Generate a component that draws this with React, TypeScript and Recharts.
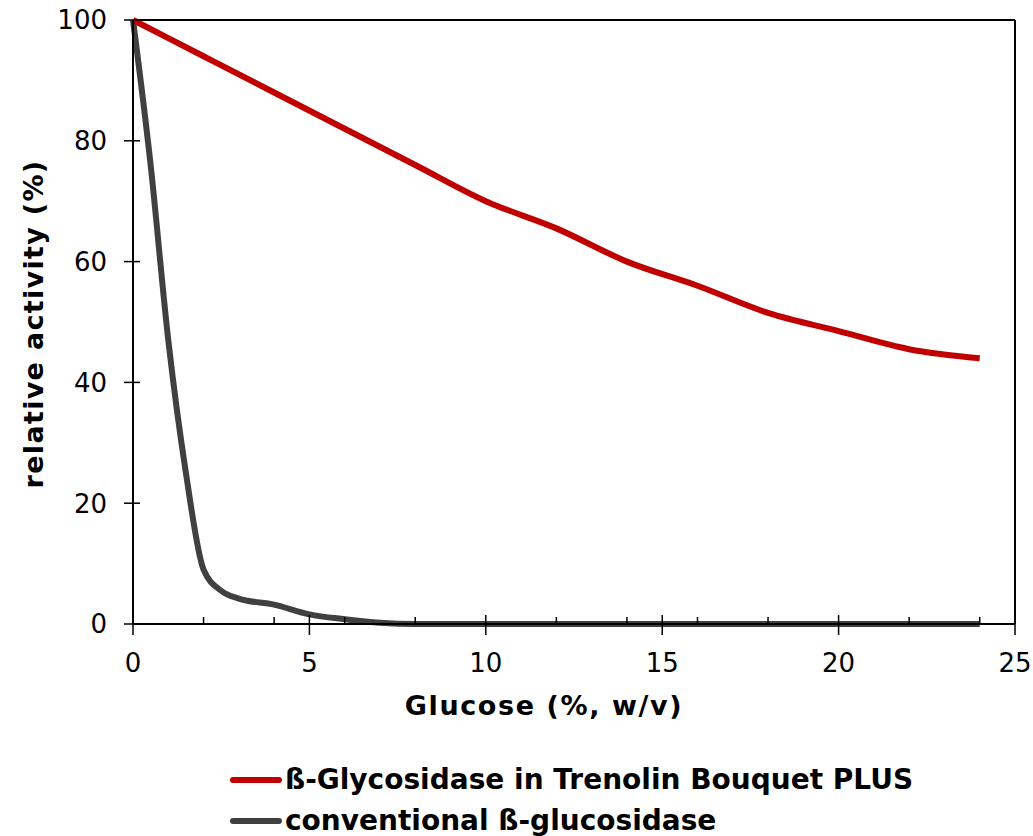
import React from 'react';
import { LineChart, Line, XAxis, YAxis, ReferenceLine, Legend } from 'recharts';

// glucose concentration (%, w/v)
const redX = [0, 2, 4, 6, 8, 10, 12, 14, 16, 18, 20, 22, 24];
const redY = [100, 94, 88, 82, 76, 70, 65.5, 60, 56, 51.5, 48.5, 45.5, 44];

const grayX = [0, 0.5, 1, 1.5, 2, 2.5, 3, 4, 5, 6, 7, 8, 10, 12, 14, 16, 18, 20, 22, 24];
const grayY = [100, 76, 47, 25, 9, 5.5, 4.2, 3.2, 1.6, 0.8, 0.2, 0, 0, 0, 0, 0, 0, 0, 0, 0];

const xTicks = [0, 2, 4, 5, 6, 8, 10, 12, 14, 15, 16, 18, 20, 22, 24, 25];
const yTicks = [0, 20, 40, 60, 80, 100];

const seriesNames = ['ß-Glycosidase in Trenolin Bouquet PLUS', 'conventional ß-glucosidase'];
const seriesColors = ['#C00000', '#404040'];

const redData = redX.map((x, i) => ({ x, y: redY[i] }));
const grayData = grayX.map((x, i) => ({ x, y: grayY[i] }));

const FONT = '"DejaVu Sans", Verdana, sans-serif';

const XTick: React.FC<any> = ({ x, y, payload }) => {
    const v = payload.value;
    const major = v % 5 === 0;
    return (
        <g>
            {major ? (
                <line x1={x} x2={x} y1={y - 9} y2={y + 11} stroke="#000" strokeWidth={1.5} />
            ) : (
                <line x1={x} x2={x} y1={y - 7} y2={y} stroke="#000" strokeWidth={1.5} />
            )}
            {major && (
                <text x={x} y={y + 48} textAnchor="middle" fontSize={26} fontFamily={FONT} fill="#000">
                    {v}
                </text>
            )}
        </g>
    );
};

const YTick: React.FC<any> = ({ x, y, payload }) => (
    <g>
        <line x1={x - 9} x2={x + 7} y1={y} y2={y} stroke="#000" strokeWidth={1.5} />
        <text x={x - 26} y={y} dy="0.36em" textAnchor="end" fontSize={26} fontFamily={FONT} fill="#000">
            {payload.value}
        </text>
    </g>
);

const XTitle: React.FC<any> = ({ viewBox }) => (
    <text x={544} y={viewBox.y + 91} textAnchor="middle" fontSize={27} letterSpacing={1.6} fontWeight="bold" fontFamily={FONT} fill="#000">
        Glucose (%, w/v)
    </text>
);

const YTitle: React.FC<any> = ({ viewBox }) => {
    const cx = 33;
    const cy = viewBox.y + viewBox.height / 2 + 2;
    return (
        <text x={cx} y={cy} dy="0.36em" transform={`rotate(-90, ${cx}, ${cy})`} textAnchor="middle" fontSize={27} letterSpacing={1.3} fontWeight="bold" fontFamily={FONT} fill="#000">
            relative activity (%)
        </text>
    );
};

const LegendBox: React.FC<any> = () => (
    <div style={{ position: 'relative', width: 780, height: 76 }}>
        {seriesNames.map((name, i) => (
            <div
                key={name}
                style={{
                    position: 'absolute',
                    left: 0,
                    top: i * 41 + 6,
                    height: 28,
                    display: 'flex',
                    alignItems: 'center',
                    whiteSpace: 'nowrap',
                }}
            >
                <span style={{ display: 'inline-block', width: 52, height: 6, borderRadius: 3, background: seriesColors[i], marginLeft: 3, marginRight: 3 }} />
                <span style={{ fontFamily: FONT, fontSize: 28, fontWeight: 'bold', lineHeight: '28px', color: '#000' }}>{name}</span>
            </div>
        ))}
    </div>
);

const App: React.FC = () => {
    return (
        <div style={{ position: 'absolute', left: 0, top: 0, background: '#fff' }}>
            <LineChart width={1033} height={836} margin={{ top: 20, right: 18, left: 0, bottom: 0 }}>
                <XAxis
                    dataKey="x"
                    type="number"
                    domain={[0, 25]}
                    ticks={xTicks}
                    interval={0}
                    height={212}
                    tickSize={0}
                    tickMargin={0}
                    tick={<XTick />}
                    axisLine={{ stroke: '#000', strokeWidth: 2 }}
                    label={<XTitle />}
                    allowDuplicatedCategory={false}
                />
                <YAxis
                    dataKey="y"
                    type="number"
                    domain={[0, 100]}
                    ticks={yTicks}
                    interval={0}
                    width={133}
                    tickSize={0}
                    tickMargin={0}
                    tick={<YTick />}
                    axisLine={{ stroke: '#000', strokeWidth: 2 }}
                    label={<YTitle />}
                />
                <ReferenceLine y={100} stroke="#000" strokeWidth={2} />
                <ReferenceLine x={25} stroke="#000" strokeWidth={2} />
                <Line
                    data={grayData}
                    dataKey="y"
                    name={seriesNames[1]}
                    type="monotone"
                    stroke={seriesColors[1]}
                    strokeWidth={6}
                    dot={false}
                    isAnimationActive={false}
                />
                <Line
                    data={redData}
                    dataKey="y"
                    name={seriesNames[0]}
                    type="monotone"
                    stroke={seriesColors[0]}
                    strokeWidth={6}
                    dot={false}
                    isAnimationActive={false}
                />
                <Legend
                    layout="vertical"
                    align="center"
                    verticalAlign="middle"
                    content={<LegendBox />}
                    wrapperStyle={{ left: 227, top: 760, width: 780, height: 76 }}
                />
            </LineChart>
        </div>
    );
};

export default App;
